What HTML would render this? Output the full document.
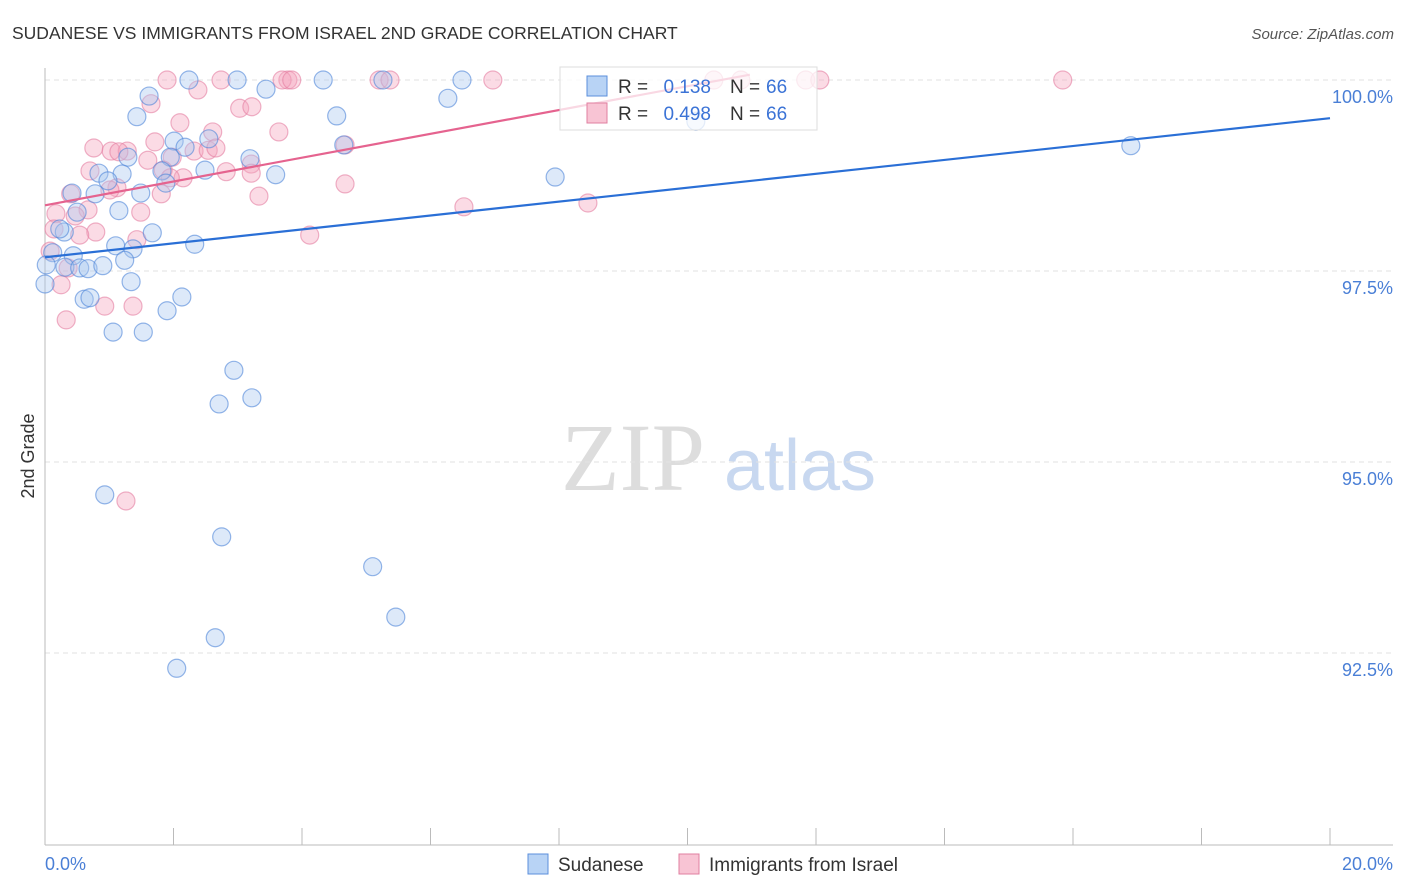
<!DOCTYPE html>
<html><head><meta charset="utf-8"><style>
body{margin:0;background:#fff;font-family:"Liberation Sans",sans-serif;}
svg{display:block}
</style></head><body>
<svg id="chart" width="1406" height="892">
<text x="12" y="39" font-size="17.5" fill="#333">SUDANESE VS IMMIGRANTS FROM ISRAEL 2ND GRADE CORRELATION CHART</text>
<text x="1394" y="39" font-size="15" fill="#555" text-anchor="end" font-style="italic">Source: ZipAtlas.com</text>
<text x="34" y="456" font-size="18" fill="#333" text-anchor="middle" transform="rotate(-90 34 456)">2nd Grade</text>
<g>
<text x="633" y="490" font-size="96" fill="#ddd" text-anchor="middle" font-family="Liberation Serif,serif">ZIP</text>
<text x="800" y="490" font-size="72" fill="#c8d8f0" text-anchor="middle">atlas</text>
</g>
<g id="grid"></g><g id="axes"></g><g id="pts"></g><g id="lines"></g>
<g>
<rect x="560" y="67" width="257" height="63" fill="#fff" fill-opacity="0.75" stroke="#ddd"/>
<rect x="587" y="76" width="20" height="20" fill="#b8d3f5" stroke="#5b8fdc"/>
<rect x="587" y="103" width="20" height="20" fill="#f8c4d4" stroke="#e07fa0"/>
<text x="618" y="93" font-size="19" fill="#333">R =</text>
<text x="711" y="93" font-size="19" fill="#3b73d6" text-anchor="end">0.138</text>
<text x="730" y="93" font-size="19" fill="#333">N =</text>
<text x="766" y="93" font-size="19" fill="#3b73d6">66</text>
<text x="618" y="120" font-size="19" fill="#333">R =</text>
<text x="711" y="120" font-size="19" fill="#3b73d6" text-anchor="end">0.498</text>
<text x="730" y="120" font-size="19" fill="#333">N =</text>
<text x="766" y="120" font-size="19" fill="#3b73d6">66</text>
</g>
<g>
<rect x="528" y="854" width="20" height="20" fill="#b8d3f5" stroke="#5b8fdc"/>
<text x="558" y="871" font-size="19" fill="#333">Sudanese</text>
<rect x="679" y="854" width="20" height="20" fill="#f8c4d4" stroke="#e07fa0"/>
<text x="709" y="871" font-size="19" fill="#333">Immigrants from Israel</text>
</g>
</svg>
<script>
const yTicks=[100,97.5,95,92.5];
const yTickLabels=["100.0%","97.5%","95.0%","92.5%"];
const xTicks=[0,2,4,6,8,10,12,14,16,18,20];
const xLabels=["0.0%","20.0%"];
const blueX=[2.24,2.99,4.33,6.49,5.26,1.62,3.44,6.27,1.43,4.54,10.13,16.90,2.55,2.01,2.18,4.65,1.29,1.95,3.19,1.82,0.84,1.20,2.49,3.59,7.94,0.98,1.88,0.42,0.78,1.49,1.15,0.50,1.67,0.30,0.23,2.33,1.10,1.37,1.24,0.12,0.44,0.02,0.31,0.54,0.67,0.90,1.34,0,0.61,0.70,2.13,1.90,1.06,1.53,2.94,2.71,3.22,0.93,2.75,5.10,2.65,5.46,2.05];
const blueY=[100,100,100,100,100,99.79,99.88,99.76,99.52,99.53,99.46,99.14,99.23,99.20,99.12,99.15,98.99,98.99,98.97,98.81,98.78,98.77,98.82,98.76,98.73,98.68,98.65,98.52,98.51,98.52,98.29,98.27,98.00,98.01,98.05,97.85,97.83,97.79,97.64,97.74,97.70,97.58,97.55,97.54,97.53,97.57,97.36,97.33,97.13,97.15,97.16,96.98,96.70,96.70,96.20,95.76,95.84,94.57,94.02,93.63,92.70,92.97,92.30];
const pinkX=[1.90,2.74,3.78,3.69,3.84,5.20,5.37,6.97,10.41,10.83,11.84,12.06,15.84,2.38,1.65,3.03,3.22,2.10,2.61,3.64,1.71,0.76,1.03,1.28,1.15,2.32,2.54,1.60,1.98,1.84,0.70,3.21,2.82,2.15,1.95,3.21,2.66,4.67,1.12,1.81,3.33,4.67,1.01,0.40,6.52,8.45,0.67,0.17,0.47,1.49,0.14,0.79,0.54,1.43,4.12,0.08,0.36,0.25,0.93,1.37,0.33,1.26];
const pinkY=[100,100,100,100,100,100,100,100,100,100,100,100,100,99.87,99.69,99.63,99.65,99.44,99.32,99.32,99.19,99.11,99.07,99.07,99.06,99.07,99.08,98.95,98.99,98.82,98.81,98.90,98.80,98.72,98.72,98.78,99.11,99.15,98.59,98.51,98.48,98.64,98.56,98.51,98.34,98.39,98.30,98.25,98.22,98.27,98.05,98.01,97.97,97.91,97.97,97.76,97.54,97.32,97.04,97.04,96.86,94.49];
const blueTrend=[[0,97.68],[20,99.50]];
const pinkTrend=[[0,98.36],[10.97,100.07]];
const NS="http://www.w3.org/2000/svg";
const sx=v=>45+v/20*1285, sy=v=>80+(100-v)/2.5*191;
function mk(t,a,p){const e=document.createElementNS(NS,t);for(const k in a)e.setAttribute(k,a[k]);p.appendChild(e);return e;}
const grid=document.getElementById('grid'),axes=document.getElementById('axes'),pts=document.getElementById('pts'),lines=document.getElementById('lines');
yTicks.forEach((v,i)=>{
 const l=mk('line',{x1:45,x2:1393,y1:sy(v),y2:sy(v),stroke:'#e2e2e2','stroke-dasharray':'5,4'},grid);
 
 
 const t=mk('text',{x:1393,y:sy(v)+23,'font-size':18,fill:'#4a7fd6','text-anchor':'end'},axes);t.textContent=yTickLabels[i];
 
 
});
const ax=mk('line',{x1:45,x2:45,y1:68,y2:845,stroke:'#bbb'},axes);


const bx=mk('line',{x1:45,x2:1393,y1:845,y2:845,stroke:'#bbb'},axes);


xTicks.forEach(v=>{const t=mk('line',{x1:sx(v),x2:sx(v),y1:828,y2:845,stroke:'#bbb'},axes);
 
 });
[[0,'start',45],[20,'end',1393]].forEach((d,i)=>{const t=mk('text',{x:d[2],y:870,'font-size':18,fill:'#4a7fd6','text-anchor':d[1]},axes);t.textContent=xLabels[i];
 
 });
function series(X,Y,fill,stroke,name){X.forEach((x,i)=>{const c=mk('circle',{cx:sx(x),cy:sy(Y[i]),r:9,fill:fill,'fill-opacity':0.4,stroke:stroke,'stroke-opacity':0.6,'stroke-width':1.2},pts);
 
 });}
series(pinkX,pinkY,'#f4a6bf','#e47fa2','point-israel');
series(blueX,blueY,'#a9c8f0','#4f86d8','point-sudanese');
function trend(T,col,name){const l=mk('line',{x1:sx(T[0][0]),y1:sy(T[0][1]),x2:sx(T[1][0]),y2:sy(T[1][1]),stroke:col,'stroke-width':2.2},lines);
 
 }
trend(blueTrend,'#2a6fd6','trend-sudanese');
trend(pinkTrend,'#e5638f','trend-israel');
</script>
</body></html>
